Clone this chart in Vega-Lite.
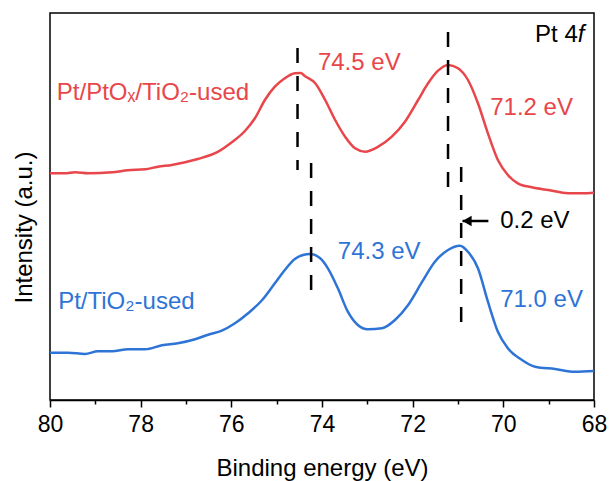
{
  "$schema": "https://vega.github.io/schema/vega-lite/v6.json",
  "width": 544,
  "height": 387,
  "autosize": {"type": "none"},
  "padding": {"left": 50, "top": 13, "right": 15, "bottom": 81},
  "background": "white",
  "config": {
    "view": {"stroke": "black", "strokeWidth": 1.5},
    "font": "Liberation Sans"
  },
  "datasets": {
    "curves": [
      {"s": "Pt/PtOx/TiO2-used", "e": 80.00, "i": 226.7},
      {"s": "Pt/PtOx/TiO2-used", "e": 79.67, "i": 226.7},
      {"s": "Pt/PtOx/TiO2-used", "e": 79.45, "i": 227.8},
      {"s": "Pt/PtOx/TiO2-used", "e": 79.16, "i": 226.8},
      {"s": "Pt/PtOx/TiO2-used", "e": 78.63, "i": 227.7},
      {"s": "Pt/PtOx/TiO2-used", "e": 78.28, "i": 229.7},
      {"s": "Pt/PtOx/TiO2-used", "e": 77.90, "i": 230.7},
      {"s": "Pt/PtOx/TiO2-used", "e": 77.62, "i": 233.3},
      {"s": "Pt/PtOx/TiO2-used", "e": 77.31, "i": 235.0},
      {"s": "Pt/PtOx/TiO2-used", "e": 77.02, "i": 237.7},
      {"s": "Pt/PtOx/TiO2-used", "e": 76.74, "i": 241.0},
      {"s": "Pt/PtOx/TiO2-used", "e": 76.29, "i": 248.3},
      {"s": "Pt/PtOx/TiO2-used", "e": 75.99, "i": 257.7},
      {"s": "Pt/PtOx/TiO2-used", "e": 75.70, "i": 269.0},
      {"s": "Pt/PtOx/TiO2-used", "e": 75.48, "i": 281.7},
      {"s": "Pt/PtOx/TiO2-used", "e": 75.26, "i": 300.0},
      {"s": "Pt/PtOx/TiO2-used", "e": 75.04, "i": 313.3},
      {"s": "Pt/PtOx/TiO2-used", "e": 74.82, "i": 321.7},
      {"s": "Pt/PtOx/TiO2-used", "e": 74.60, "i": 326.7},
      {"s": "Pt/PtOx/TiO2-used", "e": 74.47, "i": 327.0},
      {"s": "Pt/PtOx/TiO2-used", "e": 74.38, "i": 324.0},
      {"s": "Pt/PtOx/TiO2-used", "e": 74.15, "i": 316.7},
      {"s": "Pt/PtOx/TiO2-used", "e": 73.93, "i": 300.0},
      {"s": "Pt/PtOx/TiO2-used", "e": 73.71, "i": 280.0},
      {"s": "Pt/PtOx/TiO2-used", "e": 73.49, "i": 263.3},
      {"s": "Pt/PtOx/TiO2-used", "e": 73.27, "i": 251.7},
      {"s": "Pt/PtOx/TiO2-used", "e": 73.05, "i": 248.3},
      {"s": "Pt/PtOx/TiO2-used", "e": 72.76, "i": 253.3},
      {"s": "Pt/PtOx/TiO2-used", "e": 72.46, "i": 263.3},
      {"s": "Pt/PtOx/TiO2-used", "e": 72.17, "i": 278.3},
      {"s": "Pt/PtOx/TiO2-used", "e": 71.88, "i": 300.0},
      {"s": "Pt/PtOx/TiO2-used", "e": 71.66, "i": 316.7},
      {"s": "Pt/PtOx/TiO2-used", "e": 71.44, "i": 329.3},
      {"s": "Pt/PtOx/TiO2-used", "e": 71.22, "i": 335.0},
      {"s": "Pt/PtOx/TiO2-used", "e": 71.00, "i": 331.7},
      {"s": "Pt/PtOx/TiO2-used", "e": 70.78, "i": 320.0},
      {"s": "Pt/PtOx/TiO2-used", "e": 70.56, "i": 296.7},
      {"s": "Pt/PtOx/TiO2-used", "e": 70.34, "i": 266.7},
      {"s": "Pt/PtOx/TiO2-used", "e": 70.12, "i": 240.0},
      {"s": "Pt/PtOx/TiO2-used", "e": 69.90, "i": 225.0},
      {"s": "Pt/PtOx/TiO2-used", "e": 69.68, "i": 216.7},
      {"s": "Pt/PtOx/TiO2-used", "e": 69.37, "i": 212.7},
      {"s": "Pt/PtOx/TiO2-used", "e": 69.01, "i": 210.0},
      {"s": "Pt/PtOx/TiO2-used", "e": 68.57, "i": 206.7},
      {"s": "Pt/PtOx/TiO2-used", "e": 68.26, "i": 206.7},
      {"s": "Pt/PtOx/TiO2-used", "e": 68.00, "i": 207.3},
      {"s": "Pt/TiO2-used", "e": 80.00, "i": 47.3},
      {"s": "Pt/TiO2-used", "e": 79.60, "i": 47.3},
      {"s": "Pt/TiO2-used", "e": 79.23, "i": 46.0},
      {"s": "Pt/TiO2-used", "e": 78.94, "i": 48.7},
      {"s": "Pt/TiO2-used", "e": 78.63, "i": 48.7},
      {"s": "Pt/TiO2-used", "e": 78.28, "i": 50.7},
      {"s": "Pt/TiO2-used", "e": 77.90, "i": 50.7},
      {"s": "Pt/TiO2-used", "e": 77.53, "i": 54.7},
      {"s": "Pt/TiO2-used", "e": 77.18, "i": 56.7},
      {"s": "Pt/TiO2-used", "e": 76.80, "i": 60.7},
      {"s": "Pt/TiO2-used", "e": 76.51, "i": 65.3},
      {"s": "Pt/TiO2-used", "e": 76.21, "i": 69.3},
      {"s": "Pt/TiO2-used", "e": 75.92, "i": 76.7},
      {"s": "Pt/TiO2-used", "e": 75.63, "i": 86.7},
      {"s": "Pt/TiO2-used", "e": 75.32, "i": 100.0},
      {"s": "Pt/TiO2-used", "e": 75.04, "i": 116.7},
      {"s": "Pt/TiO2-used", "e": 74.82, "i": 130.0},
      {"s": "Pt/TiO2-used", "e": 74.60, "i": 141.0},
      {"s": "Pt/TiO2-used", "e": 74.42, "i": 145.0},
      {"s": "Pt/TiO2-used", "e": 74.26, "i": 146.0},
      {"s": "Pt/TiO2-used", "e": 74.04, "i": 141.7},
      {"s": "Pt/TiO2-used", "e": 73.87, "i": 131.7},
      {"s": "Pt/TiO2-used", "e": 73.65, "i": 111.7},
      {"s": "Pt/TiO2-used", "e": 73.43, "i": 88.3},
      {"s": "Pt/TiO2-used", "e": 73.21, "i": 75.0},
      {"s": "Pt/TiO2-used", "e": 72.99, "i": 70.7},
      {"s": "Pt/TiO2-used", "e": 72.68, "i": 71.7},
      {"s": "Pt/TiO2-used", "e": 72.39, "i": 80.0},
      {"s": "Pt/TiO2-used", "e": 72.10, "i": 95.0},
      {"s": "Pt/TiO2-used", "e": 71.79, "i": 118.3},
      {"s": "Pt/TiO2-used", "e": 71.51, "i": 138.3},
      {"s": "Pt/TiO2-used", "e": 71.22, "i": 150.0},
      {"s": "Pt/TiO2-used", "e": 70.96, "i": 154.3},
      {"s": "Pt/TiO2-used", "e": 70.78, "i": 148.3},
      {"s": "Pt/TiO2-used", "e": 70.56, "i": 131.7},
      {"s": "Pt/TiO2-used", "e": 70.34, "i": 98.3},
      {"s": "Pt/TiO2-used", "e": 70.12, "i": 68.3},
      {"s": "Pt/TiO2-used", "e": 69.90, "i": 51.7},
      {"s": "Pt/TiO2-used", "e": 69.59, "i": 40.0},
      {"s": "Pt/TiO2-used", "e": 69.30, "i": 33.3},
      {"s": "Pt/TiO2-used", "e": 68.86, "i": 31.0},
      {"s": "Pt/TiO2-used", "e": 68.42, "i": 28.3},
      {"s": "Pt/TiO2-used", "e": 68.00, "i": 29.0}
    ],
    "dashes": [
      {"e": 74.54, "y1": 352, "y2": 230},
      {"e": 71.22, "y1": 368, "y2": 212},
      {"e": 74.24, "y1": 237, "y2": 109},
      {"e": 70.93, "y1": 233, "y2": 77}
    ],
    "labels": [
      {"t": "74.5 eV", "s": "Pt/PtOx/TiO2-used", "e": 74.09, "i": 337},
      {"t": "71.2 eV", "s": "Pt/PtOx/TiO2-used", "e": 70.29, "i": 292},
      {"t": "74.3 eV", "s": "Pt/TiO2-used", "e": 73.65, "i": 148},
      {"t": "71.0 eV", "s": "Pt/TiO2-used", "e": 70.07, "i": 100},
      {"t": "Pt/PtOₓ/TiO₂-used", "s": "Pt/PtOx/TiO2-used", "e": 79.85, "i": 307},
      {"t": "Pt/TiO₂-used", "s": "Pt/TiO2-used", "e": 79.82, "i": 98},
      {"t": "0.2 eV", "s": "other", "e": 70.07, "i": 179},
      {"t": "Pt 4", "s": "other", "e": 69.30, "i": 365}
    ],
    "italic": [
      {"t": "f", "e": 68.36, "i": 365}
    ],
    "arrow": [
      {"e1": 70.90, "e2": 70.33, "i": 179, "head": 70.80}
    ]
  },
  "layer": [
    {
      "data": {"name": "curves"},
      "mark": {"type": "line", "strokeWidth": 2.5, "interpolate": "monotone"},
      "encoding": {
        "x": {"field": "e", "type": "quantitative",
              "scale": {"domain": [68, 80], "reverse": true, "nice": false, "zero": false},
              "axis": {
                "values": [68, 69, 70, 71, 72, 73, 74, 75, 76, 77, 78, 79, 80],
                "labelExpr": "datum.value % 2 == 0 ? datum.label : ''",
                "tickSize": {"condition": {"test": "datum.value % 2 == 0", "value": 7}, "value": 4},
                "tickColor": "black", "tickWidth": 1.5,
                "domainColor": "black", "domainWidth": 1.5,
                "labelFontSize": 23, "labelColor": "black", "labelPadding": 6,
                "labelFont": "Liberation Sans", "labelFlush": false, "labelOverlap": false,
                "grid": false,
                "title": "Binding energy (eV)", "titleFontSize": 24, "titleFontWeight": "normal",
                "titleColor": "black", "titlePadding": 20, "titleFont": "Liberation Sans"
              }},
        "y": {"field": "i", "type": "quantitative",
              "scale": {"domain": [0, 387], "nice": false, "zero": false},
              "axis": {
                "ticks": false, "labels": false, "domain": false, "grid": false,
                "title": "Intensity (a.u.)", "titleFontSize": 24, "titleFontWeight": "normal",
                "titleColor": "black", "titlePadding": 14, "titleFont": "Liberation Sans",
                "titleY": 214
              }},
        "color": {"field": "s", "type": "nominal",
                  "scale": {"domain": ["Pt/PtOx/TiO2-used", "Pt/TiO2-used", "other"], "range": ["#E8464A", "#2E74D6", "#000000"]},
                  "legend": null},
        "detail": {"field": "s"}
      }
    },
    {
      "data": {"name": "dashes"},
      "mark": {"type": "rule", "strokeWidth": 2.5, "strokeDash": [15, 13], "color": "black"},
      "encoding": {
        "x": {"field": "e", "type": "quantitative"},
        "y": {"field": "y1", "type": "quantitative"},
        "y2": {"field": "y2"}
      }
    },
    {
      "data": {"name": "arrow"},
      "mark": {"type": "rule", "strokeWidth": 2.5, "color": "black"},
      "encoding": {
        "x": {"field": "e1", "type": "quantitative"},
        "x2": {"field": "e2"},
        "y": {"field": "i", "type": "quantitative"}
      }
    },
    {
      "data": {"name": "arrow"},
      "mark": {"type": "point", "shape": "triangle-left", "filled": true, "size": 110, "color": "black", "opacity": 1},
      "encoding": {
        "x": {"field": "head", "type": "quantitative"},
        "y": {"field": "i", "type": "quantitative"}
      }
    },
    {
      "data": {"name": "labels"},
      "mark": {"type": "text", "align": "left", "baseline": "middle", "fontSize": 24, "font": "Liberation Sans"},
      "encoding": {
        "x": {"field": "e", "type": "quantitative"},
        "y": {"field": "i", "type": "quantitative"},
        "text": {"field": "t"},
        "color": {"field": "s", "type": "nominal", "legend": null}
      }
    },
    {
      "data": {"name": "italic"},
      "mark": {"type": "text", "align": "left", "baseline": "middle", "fontSize": 24, "font": "Liberation Sans", "fontStyle": "italic", "color": "black"},
      "encoding": {
        "x": {"field": "e", "type": "quantitative"},
        "y": {"field": "i", "type": "quantitative"},
        "text": {"field": "t"}
      }
    }
  ]
}
